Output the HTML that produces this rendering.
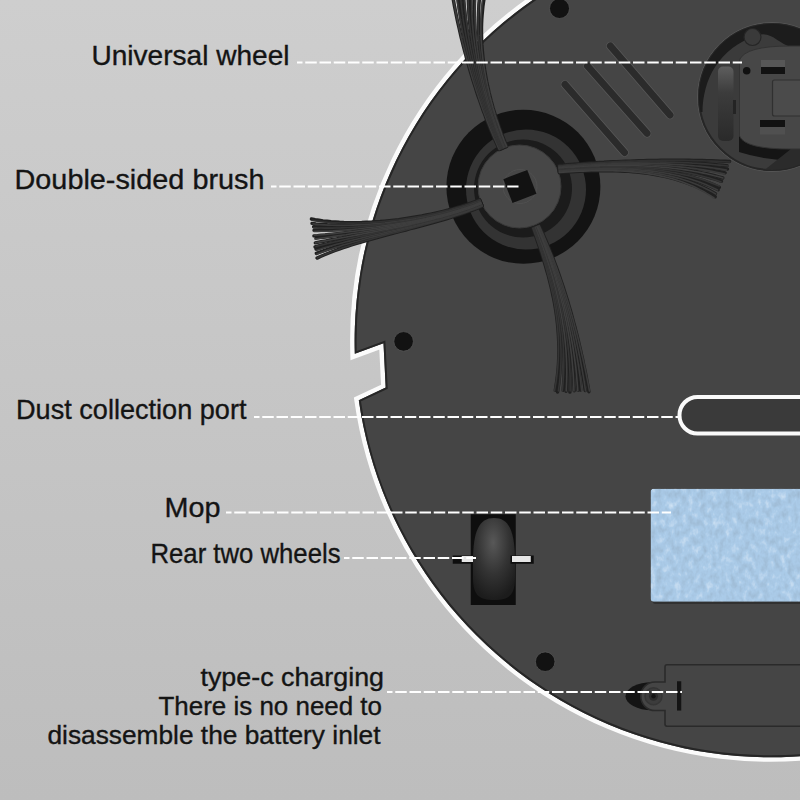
<!DOCTYPE html>
<html><head><meta charset="utf-8">
<style>
html,body{margin:0;padding:0;width:800px;height:800px;overflow:hidden;background:#c6c6c6;}
svg{display:block;position:absolute;left:0;top:0;}
text{font-family:"Liberation Sans",sans-serif;fill:#141414;stroke:#141414;stroke-width:0.35;}
</style></head>
<body>
<svg width="800" height="800" viewBox="0 0 800 800">
<defs>
  <linearGradient id="bg" x1="0" y1="0" x2="0" y2="1">
    <stop offset="0" stop-color="#cecece"/>
    <stop offset="1" stop-color="#bdbdbd"/>
  </linearGradient>
  <radialGradient id="wheelg" cx="0.48" cy="0.3" r="0.7">
    <stop offset="0" stop-color="#585858"/>
    <stop offset="0.55" stop-color="#333333"/>
    <stop offset="1" stop-color="#1c1c1c"/>
  </radialGradient>
  <linearGradient id="uwg" x1="0" y1="0" x2="0" y2="1">
    <stop offset="0" stop-color="#5e5e5e"/>
    <stop offset="0.35" stop-color="#3c3c3c"/>
    <stop offset="1" stop-color="#2a2a2a"/>
  </linearGradient>
  <clipPath id="diskclip">
    <path d="M358.8 400.2 A416 416 0 1 0 354.8 353.8 L383.5 343.3 L385.7 387.5 Z"/>
  </clipPath>
  <clipPath id="rimclip"><rect x="300" y="-10" width="520" height="400"/></clipPath>
  <clipPath id="uwclip">
    <circle cx="772" cy="97" r="73"/>
  </clipPath>
  <filter id="mopnoise" x="0" y="0" width="1" height="1">
    <feTurbulence type="fractalNoise" baseFrequency="0.16 0.11" numOctaves="3" seed="5" result="n"/>
    <feColorMatrix in="n" type="matrix" values="0 0 0 0 0.30  0 0 0 0 0.42  0 0 0 0 0.55  1.5 0 0 0 -0.68" result="dark"/>
    <feColorMatrix in="n" type="matrix" values="0 0 0 0 0.85  0 0 0 0 0.93  0 0 0 0 1.0  -1.3 0 0 0 0.55" result="light"/>
    <feMerge result="m"><feMergeNode in="SourceGraphic"/><feMergeNode in="dark"/><feMergeNode in="light"/></feMerge>
    <feComposite in="m" in2="SourceGraphic" operator="in"/>
  </filter>
</defs>
<rect x="0" y="0" width="800" height="800" fill="url(#bg)"/>

<!-- disk -->
<path d="M358.8 400.2 A416 416 0 1 0 354.8 353.8 L383.5 343.3 L385.7 387.5 Z" fill="#454545" stroke="#fbfbfb" stroke-width="9" stroke-linejoin="miter"/>
<path d="M358.8 400.2 A416 416 0 1 0 354.8 353.8 L383.5 343.3 L385.7 387.5 Z" fill="#454545"/>
<g clip-path="url(#diskclip)">
  <path d="M358.8 400.2 A416 416 0 1 0 354.8 353.8 L383.5 343.3 L385.7 387.5 Z" fill="none" stroke="#262626" stroke-width="4"/>

  <!-- holes -->
  <g fill="#121212" stroke="#555" stroke-width="0.8">
    <circle cx="559.5" cy="8.5" r="10"/>
    <circle cx="403.6" cy="341.4" r="9.8"/>
    <circle cx="545.2" cy="661.7" r="9.8"/>
  </g>

  <!-- vents -->
  <g stroke-linecap="round">
    <g stroke="#585858" stroke-width="8.5">
      <line x1="565" y1="84.5" x2="624.5" y2="152.5"/>
      <line x1="587.5" y1="66" x2="647" y2="133.3"/>
      <line x1="610.4" y1="46" x2="670" y2="115"/>
    </g>
    <g stroke="#2b2b2b" stroke-width="7">
      <line x1="565" y1="84.5" x2="624.5" y2="152.5"/>
      <line x1="587.5" y1="66" x2="647" y2="133.3"/>
      <line x1="610.4" y1="46" x2="670" y2="115"/>
    </g>
  </g>

  <!-- universal wheel housing -->
  <circle cx="772" cy="97" r="74.5" fill="#3b3b3b" stroke="#565656" stroke-width="1"/>
  <circle cx="772" cy="97" r="73" fill="none" stroke="#262626" stroke-width="2"/>
  <g clip-path="url(#uwclip)">
    <path d="M690 112 L702.5 112 C703 80 718 48 758 35 C772 31 778 44 792 47 L812 47 L812 10 L690 10 Z" fill="#1c1c1c"/>
    <circle cx="752.5" cy="37" r="8.5" fill="#3a3a3a" stroke="#262626" stroke-width="1.2"/>
    <path d="M739 136 L805 136 L805 160 Q770 162 739 152 Z" fill="#151515"/>
    <path d="M762 172 L830 118 L830 178 Z" fill="#2b2b2b"/>
  </g>
  <path d="M739.5 60 Q745 46 790 46 L810 46 L810 149 L790 149 Q745 149 739.5 136 Z" fill="#474747" stroke="#333" stroke-width="1"/>
  <rect x="718" y="66.5" width="15.5" height="74.5" rx="5" fill="url(#uwg)"/>
  <rect x="733" y="100" width="3" height="14" fill="#242424"/>
  <circle cx="746.7" cy="70.7" r="3.8" fill="#111"/>
  <rect x="761" y="60" width="24" height="7" fill="#575757"/>
  <rect x="761" y="67" width="24" height="7" fill="#121212"/>
  <rect x="772.5" y="80" width="30" height="36" rx="2" fill="#4b4b4b" stroke="#303030" stroke-width="1.2"/>
  <rect x="760" y="120" width="25" height="7" fill="#121212"/>
  <rect x="760" y="127" width="25" height="7.5" fill="#505050"/>

  <!-- brush housing -->
  <circle cx="523.4" cy="186.8" r="77" fill="#131313"/>
  <circle cx="526" cy="189.5" r="60" fill="#333333"/>
  <circle cx="523" cy="188.5" r="49" fill="#1b1b1b"/>
  <circle cx="519.5" cy="186.5" r="41.5" fill="#474747" stroke="#3a3a3a" stroke-width="1"/>
  <circle cx="520" cy="186.5" r="17" fill="none" stroke="#525252" stroke-width="0.8"/>
  <rect x="507.1" y="173.7" width="25.6" height="25.6" fill="#121212" transform="rotate(-21 519.9 186.5)"/>

  <!-- dust port -->
  <rect x="679.5" y="397" width="180" height="36.5" rx="18" fill="#3a3a3a" stroke="#fafafa" stroke-width="4"/>

  <!-- mop -->
  <rect x="652.5" y="491" width="160" height="113" rx="3" fill="#252525" opacity="0.6"/>
  <rect x="650.6" y="488.7" width="160" height="113" rx="3" fill="#aacbe8" filter="url(#mopnoise)"/>

  <!-- rear wheel -->
  <rect x="470.75" y="514.25" width="45" height="90.75" fill="#0e0e0e"/>
  <path d="M473 562 C473 531 479 518 494 518 C509 518 515 531 515 562 L515 578 C515 596 508 600 494 600 C480 600 473 596 473 578 Z" fill="url(#wheelg)"/>
  <rect x="452.75" y="555.5" width="19.5" height="8.25" fill="#0e0e0e"/>
  <rect x="461.75" y="556" width="11.25" height="6" fill="#e6e6e6"/>
  <rect x="510.5" y="555.5" width="23.25" height="8.25" fill="#0e0e0e"/>
  <rect x="512" y="556" width="18.75" height="6" fill="#e6e6e6"/>

  <!-- battery cover -->
  <ellipse cx="652" cy="696.2" rx="26.5" ry="14" fill="#141414"/>
  <path d="M665 667 Q665 664.75 667 664.75 L820 664.75 L820 726.25 L667 726.25 Q665 726.25 665 724 L665 710.5 L655 710.5 A14.25 14.25 0 0 1 655 682 L665 682 Z" fill="#454545" stroke="#2a2a2a" stroke-width="1.6"/>
  <circle cx="653.5" cy="696.25" r="8.5" fill="#3c3c3c" stroke="#353535" stroke-width="1.5"/>
  <circle cx="653.5" cy="696.25" r="4.5" fill="#2c2c2c"/>
  <circle cx="653.5" cy="696.25" r="2.2" fill="#151515"/>
  <rect x="677" y="681.25" width="4.25" height="29.3" fill="#141414"/>
</g>

<!-- brushes -->
<g fill="none" stroke-linecap="round">
<path d="M499.3 149.6 L498.0 146.8 L496.7 143.9 L495.4 141.0 L494.0 137.9 L492.7 134.8 L491.4 131.6 L490.0 128.3 L488.7 125.0 L487.3 121.5 L486.0 118.1 L484.7 114.5 L483.3 110.9 L482.0 107.2 L480.7 103.5 L479.4 99.7 L478.0 95.9 L476.7 92.0 L475.5 88.0 L474.2 84.0 L472.9 80.0 L471.7 75.9 L470.4 71.8 L469.2 67.6 L468.0 63.4 L466.8 59.2 L465.7 54.9 L464.5 50.6 L463.4 46.3 L462.3 41.9 L461.2 37.6 L460.2 33.2 L459.2 28.7 L458.2 24.3 L457.2 19.8 L456.3 15.4 L455.4 10.9 L454.5 6.4 L453.7 1.9 L452.9 -2.6" stroke="#202020" stroke-width="3.4"/>
<path d="M500.3 149.2 L499.0 146.4 L497.7 143.5 L496.4 140.6 L495.0 137.5 L493.7 134.4 L492.4 131.2 L491.1 127.9 L489.8 124.6 L488.5 121.1 L487.2 117.7 L485.9 114.1 L484.6 110.5 L483.3 106.8 L482.0 103.1 L480.8 99.3 L479.5 95.5 L478.3 91.6 L477.1 87.7 L475.9 83.7 L474.7 79.7 L473.5 75.6 L472.4 71.5 L471.3 67.3 L470.2 63.1 L469.1 58.9 L468.1 54.6 L467.1 50.3 L466.1 46.0 L465.1 41.6 L464.2 37.3 L463.4 32.9 L462.5 28.5 L461.7 24.0 L460.9 19.6 L460.2 15.1 L459.5 10.6 L458.9 6.1 L458.3 1.6 L457.8 -2.9" stroke="#202020" stroke-width="3.4"/>
<path d="M501.2 148.8 L499.9 146.0 L498.6 143.1 L497.3 140.1 L496.0 137.1 L494.7 134.0 L493.5 130.8 L492.2 127.5 L490.9 124.2 L489.6 120.8 L488.3 117.3 L487.0 113.7 L485.8 110.1 L484.5 106.5 L483.3 102.8 L482.0 99.0 L480.8 95.2 L479.6 91.3 L478.5 87.4 L477.3 83.4 L476.2 79.4 L475.0 75.3 L473.9 71.2 L472.9 67.1 L471.8 62.9 L470.8 58.7 L469.8 54.5 L468.9 50.2 L468.0 45.9 L467.1 41.6 L466.2 37.2 L465.4 32.8 L464.7 28.5 L463.9 24.0 L463.3 19.6 L462.6 15.2 L462.0 10.7 L461.5 6.3 L461.0 1.8 L460.5 -2.7" stroke="#202020" stroke-width="3.4"/>
<path d="M502.1 148.4 L500.8 145.6 L499.6 142.7 L498.3 139.7 L497.0 136.7 L495.8 133.6 L494.5 130.4 L493.2 127.1 L492.0 123.8 L490.7 120.4 L489.5 116.9 L488.2 113.4 L487.0 109.8 L485.7 106.1 L484.5 102.4 L483.3 98.6 L482.2 94.8 L481.0 90.9 L479.9 87.0 L478.8 83.1 L477.7 79.1 L476.6 75.0 L475.5 70.9 L474.5 66.8 L473.5 62.6 L472.6 58.4 L471.7 54.2 L470.8 49.9 L469.9 45.6 L469.1 41.3 L468.4 36.9 L467.6 32.6 L466.9 28.2 L466.3 23.8 L465.7 19.4 L465.2 14.9 L464.7 10.5 L464.2 6.0 L463.8 1.6 L463.5 -2.9" stroke="#202020" stroke-width="3.4"/>
<path d="M503.0 148.0 L501.8 145.2 L500.5 142.3 L499.3 139.3 L498.0 136.3 L496.8 133.2 L495.5 130.0 L494.3 126.7 L493.1 123.4 L491.8 120.0 L490.6 116.5 L489.4 113.0 L488.2 109.4 L487.0 105.8 L485.9 102.1 L484.7 98.3 L483.6 94.5 L482.5 90.7 L481.5 86.8 L480.4 82.8 L479.4 78.8 L478.4 74.8 L477.5 70.7 L476.6 66.6 L475.7 62.5 L474.9 58.3 L474.1 54.1 L473.3 49.9 L472.6 45.6 L471.9 41.4 L471.3 37.1 L470.8 32.7 L470.2 28.4 L469.8 24.1 L469.4 19.7 L469.0 15.3 L468.8 10.9 L468.6 6.5 L468.4 2.1 L468.3 -2.3" stroke="#202020" stroke-width="3.4"/>
<path d="M503.9 147.6 L502.7 144.8 L501.5 141.9 L500.3 138.9 L499.0 135.9 L497.8 132.8 L496.6 129.6 L495.4 126.3 L494.2 123.0 L492.9 119.6 L491.8 116.1 L490.6 112.6 L489.4 109.0 L488.3 105.4 L487.1 101.7 L486.0 97.9 L484.9 94.1 L483.9 90.2 L482.8 86.3 L481.8 82.4 L480.8 78.4 L479.9 74.3 L479.0 70.2 L478.1 66.1 L477.3 62.0 L476.5 57.8 L475.7 53.5 L475.0 49.3 L474.4 45.0 L473.8 40.7 L473.2 36.3 L472.7 32.0 L472.2 27.6 L471.8 23.2 L471.5 18.8 L471.2 14.3 L471.0 9.9 L470.9 5.4 L470.8 0.9 L470.8 -3.5" stroke="#202020" stroke-width="3.4"/>
<path d="M504.8 147.2 L503.6 144.4 L502.4 141.5 L501.2 138.5 L500.0 135.5 L498.8 132.4 L497.6 129.2 L496.4 125.9 L495.2 122.6 L494.1 119.2 L492.9 115.7 L491.8 112.2 L490.6 108.7 L489.5 105.0 L488.4 101.4 L487.4 97.6 L486.3 93.8 L485.3 90.0 L484.3 86.1 L483.4 82.2 L482.5 78.2 L481.6 74.2 L480.7 70.2 L479.9 66.1 L479.2 62.0 L478.5 57.8 L477.8 53.7 L477.2 49.5 L476.6 45.2 L476.1 41.0 L475.7 36.7 L475.3 32.4 L474.9 28.1 L474.7 23.8 L474.5 19.4 L474.3 15.1 L474.3 10.7 L474.3 6.4 L474.4 2.0 L474.5 -2.4" stroke="#202020" stroke-width="3.4"/>
<path d="M505.7 146.8 L504.6 144.0 L503.4 141.1 L502.2 138.1 L501.0 135.1 L499.8 131.9 L498.7 128.8 L497.5 125.5 L496.4 122.2 L495.2 118.8 L494.1 115.3 L493.0 111.8 L491.9 108.2 L490.8 104.6 L489.8 100.9 L488.8 97.2 L487.8 93.4 L486.9 89.5 L486.0 85.6 L485.1 81.7 L484.3 77.7 L483.5 73.6 L482.7 69.6 L482.0 65.5 L481.4 61.3 L480.8 57.1 L480.3 52.9 L479.8 48.6 L479.4 44.3 L479.1 40.0 L478.8 35.7 L478.6 31.3 L478.4 26.9 L478.4 22.5 L478.4 18.1 L478.5 13.6 L478.7 9.2 L478.9 4.7 L479.3 0.2 L479.7 -4.3" stroke="#202020" stroke-width="3.4"/>
<path d="M506.7 146.4 L505.5 143.6 L504.3 140.7 L503.2 137.7 L502.0 134.7 L500.9 131.5 L499.7 128.4 L498.6 125.1 L497.5 121.8 L496.4 118.4 L495.3 115.0 L494.2 111.5 L493.1 107.9 L492.1 104.3 L491.1 100.6 L490.2 96.9 L489.2 93.2 L488.4 89.4 L487.5 85.5 L486.7 81.6 L486.0 77.7 L485.3 73.7 L484.6 69.7 L484.0 65.6 L483.5 61.6 L483.0 57.4 L482.6 53.3 L482.2 49.1 L481.9 44.9 L481.7 40.7 L481.6 36.5 L481.5 32.3 L481.5 28.0 L481.6 23.7 L481.8 19.4 L482.1 15.1 L482.5 10.8 L482.9 6.5 L483.5 2.2 L484.2 -2.1" stroke="#202020" stroke-width="3.4"/>
<path d="M499.3 149.6 L498.0 146.8 L496.7 143.9 L495.4 141.0 L494.0 137.9 L492.7 134.8 L491.4 131.6 L490.0 128.3 L488.7 125.0 L487.3 121.5 L486.0 118.0 L484.7 114.5 L483.3 110.9 L482.0 107.2 L480.7 103.5 L479.4 99.7 L478.1 95.8 L476.8 92.0 L475.5 88.0 L474.2 84.0 L472.9 80.0 L471.7 75.9 L470.5 71.8 L469.2 67.6 L468.0 63.4 L466.9 59.2 L465.7 54.9 L464.6 50.6 L463.5 46.2 L462.4 41.9 L461.3 37.5 L460.3 33.1 L459.2 28.7 L458.3 24.2 L457.3 19.8 L456.4 15.3 L455.5 10.8 L454.6 6.3 L453.8 1.8 L453.0 -2.7" stroke="#3a3a3a" stroke-width="1.6"/>
<path d="M500.3 149.2 L499.0 146.4 L497.7 143.5 L496.4 140.6 L495.0 137.5 L493.7 134.4 L492.4 131.2 L491.1 127.9 L489.8 124.6 L488.5 121.1 L487.2 117.7 L485.8 114.1 L484.5 110.5 L483.3 106.8 L482.0 103.1 L480.7 99.3 L479.4 95.5 L478.2 91.6 L477.0 87.7 L475.7 83.7 L474.5 79.7 L473.4 75.6 L472.2 71.5 L471.1 67.3 L469.9 63.1 L468.8 58.9 L467.8 54.6 L466.7 50.3 L465.7 46.0 L464.7 41.7 L463.8 37.3 L462.8 32.9 L462.0 28.5 L461.1 24.1 L460.3 19.6 L459.5 15.2 L458.7 10.7 L458.0 6.2 L457.4 1.7 L456.8 -2.8" stroke="#343434" stroke-width="1.6"/>
<path d="M501.2 148.8 L499.9 146.0 L498.6 143.1 L497.3 140.1 L496.0 137.1 L494.7 134.0 L493.5 130.8 L492.2 127.5 L490.9 124.2 L489.6 120.8 L488.3 117.3 L487.0 113.7 L485.8 110.1 L484.5 106.5 L483.3 102.8 L482.0 99.0 L480.8 95.2 L479.6 91.3 L478.5 87.4 L477.3 83.4 L476.2 79.4 L475.0 75.3 L473.9 71.2 L472.9 67.0 L471.8 62.9 L470.8 58.7 L469.8 54.4 L468.9 50.1 L468.0 45.8 L467.1 41.5 L466.2 37.1 L465.4 32.7 L464.7 28.3 L463.9 23.9 L463.2 19.5 L462.6 15.0 L462.0 10.6 L461.5 6.1 L461.0 1.6 L460.5 -2.9" stroke="#343434" stroke-width="1.6"/>
<path d="M502.1 148.4 L500.8 145.6 L499.6 142.7 L498.3 139.7 L497.0 136.7 L495.8 133.6 L494.5 130.4 L493.2 127.1 L492.0 123.8 L490.7 120.4 L489.5 116.9 L488.2 113.4 L487.0 109.8 L485.8 106.1 L484.6 102.4 L483.4 98.6 L482.2 94.8 L481.1 90.9 L479.9 87.0 L478.8 83.1 L477.8 79.1 L476.7 75.0 L475.7 70.9 L474.7 66.8 L473.7 62.6 L472.8 58.4 L471.9 54.2 L471.0 49.9 L470.2 45.6 L469.4 41.3 L468.7 36.9 L468.0 32.6 L467.4 28.2 L466.8 23.8 L466.2 19.3 L465.7 14.9 L465.3 10.5 L464.9 6.0 L464.5 1.5 L464.3 -2.9" stroke="#343434" stroke-width="1.6"/>
<path d="M503.0 148.0 L501.8 145.2 L500.5 142.3 L499.3 139.3 L498.0 136.3 L496.8 133.2 L495.5 130.0 L494.3 126.7 L493.1 123.4 L491.8 120.0 L490.6 116.5 L489.4 113.0 L488.2 109.4 L487.0 105.7 L485.9 102.0 L484.7 98.3 L483.6 94.5 L482.5 90.6 L481.4 86.7 L480.4 82.7 L479.4 78.7 L478.4 74.7 L477.4 70.6 L476.5 66.5 L475.6 62.3 L474.8 58.1 L474.0 53.9 L473.2 49.7 L472.5 45.4 L471.8 41.1 L471.2 36.7 L470.6 32.4 L470.1 28.0 L469.6 23.6 L469.2 19.2 L468.8 14.8 L468.5 10.4 L468.3 5.9 L468.1 1.5 L468.0 -3.0" stroke="#343434" stroke-width="1.6"/>
<path d="M503.9 147.6 L502.7 144.8 L501.5 141.9 L500.3 138.9 L499.0 135.9 L497.8 132.8 L496.6 129.6 L495.4 126.3 L494.2 123.0 L493.0 119.6 L491.8 116.1 L490.6 112.6 L489.4 109.0 L488.3 105.4 L487.2 101.7 L486.1 97.9 L485.0 94.1 L483.9 90.3 L482.9 86.4 L481.9 82.4 L481.0 78.4 L480.1 74.4 L479.2 70.3 L478.3 66.2 L477.5 62.1 L476.7 57.9 L476.0 53.7 L475.4 49.4 L474.7 45.2 L474.2 40.9 L473.6 36.6 L473.2 32.2 L472.8 27.9 L472.4 23.5 L472.2 19.1 L471.9 14.7 L471.8 10.3 L471.7 5.8 L471.7 1.4 L471.7 -3.1" stroke="#3a3a3a" stroke-width="1.6"/>
<path d="M504.8 147.2 L503.6 144.4 L502.4 141.5 L501.2 138.5 L500.0 135.5 L498.8 132.4 L497.6 129.2 L496.4 125.9 L495.3 122.6 L494.1 119.2 L492.9 115.7 L491.8 112.2 L490.7 108.6 L489.6 105.0 L488.5 101.3 L487.4 97.6 L486.4 93.8 L485.4 89.9 L484.4 86.0 L483.5 82.1 L482.6 78.1 L481.7 74.1 L480.9 70.0 L480.1 66.0 L479.4 61.8 L478.7 57.6 L478.1 53.4 L477.5 49.2 L477.0 45.0 L476.5 40.7 L476.1 36.4 L475.8 32.0 L475.5 27.7 L475.3 23.3 L475.1 18.9 L475.0 14.6 L475.0 10.1 L475.1 5.7 L475.3 1.3 L475.5 -3.1" stroke="#3a3a3a" stroke-width="1.6"/>
<path d="M505.7 146.8 L504.6 144.0 L503.4 141.1 L502.2 138.1 L501.0 135.1 L499.8 131.9 L498.7 128.8 L497.5 125.5 L496.4 122.2 L495.2 118.8 L494.1 115.3 L493.0 111.8 L491.9 108.3 L490.8 104.6 L489.8 101.0 L488.8 97.2 L487.8 93.4 L486.8 89.6 L485.9 85.7 L485.0 81.8 L484.2 77.8 L483.4 73.8 L482.7 69.8 L481.9 65.7 L481.3 61.6 L480.7 57.4 L480.2 53.2 L479.7 49.0 L479.2 44.7 L478.9 40.5 L478.6 36.2 L478.3 31.9 L478.2 27.5 L478.1 23.2 L478.1 18.8 L478.2 14.4 L478.3 10.0 L478.5 5.6 L478.8 1.2 L479.2 -3.2" stroke="#343434" stroke-width="1.6"/>
<path d="M506.7 146.4 L505.5 143.6 L504.3 140.7 L503.2 137.7 L502.0 134.7 L500.9 131.5 L499.7 128.4 L498.6 125.1 L497.5 121.8 L496.3 118.4 L495.2 115.0 L494.2 111.5 L493.1 107.9 L492.1 104.3 L491.1 100.6 L490.1 96.9 L489.2 93.1 L488.3 89.3 L487.4 85.4 L486.6 81.5 L485.8 77.5 L485.1 73.5 L484.4 69.5 L483.8 65.4 L483.2 61.3 L482.7 57.1 L482.2 53.0 L481.8 48.8 L481.5 44.5 L481.2 40.3 L481.0 36.0 L480.9 31.7 L480.9 27.4 L480.9 23.0 L481.1 18.7 L481.3 14.3 L481.6 9.9 L481.9 5.5 L482.4 1.1 L483.0 -3.3" stroke="#3e3e3e" stroke-width="1.6"/>
<path d="M482.3 206.2 L478.7 207.7 L475.0 209.2 L471.1 210.6 L467.2 212.0 L463.2 213.4 L459.1 214.8 L454.9 216.1 L450.7 217.5 L446.4 218.8 L442.0 220.0 L437.5 221.3 L433.1 222.6 L428.6 223.8 L424.0 225.1 L419.4 226.3 L414.8 227.5 L410.2 228.7 L405.6 230.0 L401.0 231.2 L396.3 232.4 L391.7 233.6 L387.1 234.8 L382.5 236.1 L378.0 237.3 L373.5 238.6 L369.0 239.8 L364.5 241.1 L360.2 242.4 L355.8 243.7 L351.6 245.0 L347.4 246.4 L343.3 247.7 L339.2 249.1 L335.3 250.5 L331.4 252.0 L327.7 253.5 L324.0 255.0 L320.5 256.5 L317.1 258.1" stroke="#202020" stroke-width="3.4"/>
<path d="M482.1 205.6 L478.5 207.1 L474.7 208.5 L470.9 210.0 L467.0 211.4 L463.0 212.7 L458.9 214.1 L454.7 215.4 L450.4 216.7 L446.1 218.0 L441.8 219.2 L437.3 220.5 L432.9 221.7 L428.3 222.9 L423.8 224.1 L419.2 225.3 L414.6 226.5 L410.0 227.6 L405.4 228.8 L400.7 229.9 L396.1 231.1 L391.5 232.2 L386.8 233.3 L382.2 234.5 L377.7 235.6 L373.1 236.7 L368.6 237.9 L364.2 239.0 L359.8 240.1 L355.4 241.3 L351.1 242.5 L346.9 243.6 L342.7 244.8 L338.7 246.0 L334.7 247.2 L330.8 248.4 L327.0 249.6 L323.3 250.9 L319.7 252.1 L316.3 253.4" stroke="#202020" stroke-width="3.4"/>
<path d="M481.8 204.9 L478.2 206.4 L474.5 207.9 L470.6 209.3 L466.7 210.7 L462.7 212.0 L458.6 213.4 L454.5 214.7 L450.2 215.9 L445.9 217.2 L441.5 218.4 L437.1 219.7 L432.6 220.8 L428.1 222.0 L423.6 223.2 L419.0 224.3 L414.4 225.4 L409.8 226.5 L405.2 227.6 L400.5 228.7 L395.9 229.8 L391.3 230.8 L386.7 231.9 L382.1 232.9 L377.5 234.0 L372.9 235.0 L368.4 236.0 L364.0 237.0 L359.6 238.0 L355.2 239.0 L350.9 240.0 L346.7 241.0 L342.5 242.0 L338.5 243.0 L334.5 244.0 L330.6 245.0 L326.8 246.0 L323.1 247.1 L319.5 248.1 L316.0 249.1" stroke="#202020" stroke-width="3.4"/>
<path d="M481.5 204.3 L477.9 205.8 L474.2 207.2 L470.4 208.6 L466.5 210.0 L462.5 211.3 L458.4 212.6 L454.2 213.9 L450.0 215.2 L445.7 216.5 L441.3 217.7 L436.9 218.9 L432.4 220.1 L427.9 221.2 L423.4 222.3 L418.8 223.5 L414.2 224.6 L409.5 225.6 L404.9 226.7 L400.3 227.8 L395.6 228.8 L391.0 229.8 L386.3 230.8 L381.7 231.8 L377.1 232.8 L372.6 233.8 L368.0 234.7 L363.5 235.7 L359.1 236.7 L354.7 237.6 L350.4 238.5 L346.1 239.5 L341.9 240.4 L337.8 241.3 L333.8 242.3 L329.8 243.2 L326.0 244.1 L322.2 245.0 L318.5 246.0 L315.0 246.9" stroke="#202020" stroke-width="3.4"/>
<path d="M481.3 203.6 L477.7 205.1 L474.0 206.5 L470.1 207.9 L466.2 209.3 L462.2 210.6 L458.2 211.9 L454.0 213.2 L449.8 214.5 L445.5 215.7 L441.1 216.9 L436.7 218.1 L432.2 219.2 L427.7 220.3 L423.2 221.4 L418.6 222.5 L414.0 223.6 L409.4 224.6 L404.8 225.6 L400.1 226.6 L395.5 227.5 L390.9 228.5 L386.2 229.4 L381.6 230.3 L377.1 231.2 L372.5 232.1 L368.0 233.0 L363.5 233.8 L359.1 234.6 L354.7 235.5 L350.4 236.2 L346.2 237.0 L342.0 237.8 L337.9 238.6 L333.9 239.3 L330.0 240.0 L326.1 240.8 L322.4 241.5 L318.8 242.2 L315.3 242.9" stroke="#202020" stroke-width="3.4"/>
<path d="M481.0 203.0 L477.4 204.4 L473.7 205.9 L469.9 207.2 L466.0 208.6 L462.0 209.9 L457.9 211.2 L453.8 212.5 L449.5 213.7 L445.3 214.9 L440.9 216.1 L436.5 217.2 L432.1 218.3 L427.6 219.4 L423.0 220.5 L418.5 221.5 L413.9 222.5 L409.3 223.5 L404.7 224.4 L400.1 225.3 L395.4 226.2 L390.8 227.0 L386.2 227.9 L381.7 228.7 L377.1 229.5 L372.6 230.2 L368.1 230.9 L363.7 231.6 L359.3 232.3 L355.0 232.9 L350.7 233.6 L346.5 234.1 L342.4 234.7 L338.3 235.3 L334.3 235.8 L330.5 236.3 L326.7 236.7 L323.0 237.2 L319.5 237.6 L316.0 238.0" stroke="#202020" stroke-width="3.4"/>
<path d="M480.7 202.4 L477.1 203.8 L473.4 205.2 L469.6 206.6 L465.7 207.9 L461.8 209.2 L457.7 210.5 L453.5 211.7 L449.3 213.0 L445.0 214.2 L440.7 215.3 L436.3 216.4 L431.8 217.5 L427.3 218.6 L422.7 219.6 L418.2 220.6 L413.6 221.6 L408.9 222.5 L404.3 223.5 L399.7 224.3 L395.0 225.2 L390.4 226.0 L385.7 226.8 L381.1 227.6 L376.5 228.3 L371.9 229.0 L367.4 229.7 L362.9 230.3 L358.4 231.0 L354.0 231.5 L349.6 232.1 L345.4 232.6 L341.1 233.1 L337.0 233.6 L332.9 234.1 L328.9 234.5 L325.0 234.9 L321.2 235.2 L317.5 235.6 L313.9 235.9" stroke="#202020" stroke-width="3.4"/>
<path d="M480.5 201.7 L476.9 203.1 L473.2 204.5 L469.4 205.9 L465.5 207.2 L461.5 208.5 L457.5 209.8 L453.3 211.0 L449.1 212.2 L444.8 213.4 L440.5 214.5 L436.0 215.6 L431.6 216.6 L427.1 217.7 L422.6 218.6 L418.0 219.6 L413.4 220.5 L408.8 221.4 L404.2 222.2 L399.5 223.0 L394.9 223.8 L390.2 224.5 L385.6 225.2 L381.0 225.8 L376.4 226.4 L371.8 227.0 L367.3 227.5 L362.8 227.9 L358.4 228.4 L354.0 228.8 L349.6 229.1 L345.3 229.4 L341.1 229.7 L337.0 229.9 L332.9 230.1 L329.0 230.2 L325.1 230.3 L321.3 230.4 L317.6 230.4 L314.0 230.3" stroke="#202020" stroke-width="3.4"/>
<path d="M480.2 201.1 L476.6 202.5 L472.9 203.9 L469.1 205.2 L465.3 206.5 L461.3 207.8 L457.2 209.1 L453.1 210.3 L448.9 211.5 L444.6 212.6 L440.2 213.7 L435.8 214.8 L431.4 215.8 L426.9 216.8 L422.4 217.7 L417.8 218.6 L413.2 219.5 L408.6 220.3 L404.0 221.1 L399.3 221.9 L394.7 222.6 L390.0 223.2 L385.4 223.8 L380.8 224.4 L376.2 224.9 L371.6 225.4 L367.1 225.8 L362.6 226.2 L358.1 226.5 L353.7 226.8 L349.4 227.0 L345.1 227.2 L340.9 227.3 L336.7 227.4 L332.6 227.4 L328.6 227.4 L324.7 227.3 L320.9 227.2 L317.2 227.0 L313.6 226.8" stroke="#202020" stroke-width="3.4"/>
<path d="M479.9 200.4 L476.4 201.8 L472.7 203.2 L468.9 204.5 L465.0 205.8 L461.0 207.1 L457.0 208.3 L452.8 209.5 L448.6 210.7 L444.3 211.8 L440.0 212.9 L435.6 214.0 L431.1 215.0 L426.6 215.9 L422.1 216.8 L417.5 217.7 L412.9 218.6 L408.3 219.3 L403.6 220.1 L399.0 220.8 L394.3 221.4 L389.6 222.0 L385.0 222.6 L380.3 223.1 L375.7 223.5 L371.1 223.9 L366.5 224.2 L362.0 224.5 L357.4 224.8 L353.0 224.9 L348.6 225.1 L344.2 225.1 L339.9 225.1 L335.7 225.1 L331.5 224.9 L327.4 224.8 L323.5 224.5 L319.6 224.2 L315.8 223.9 L312.0 223.4" stroke="#202020" stroke-width="3.4"/>
<path d="M479.7 199.8 L476.1 201.2 L472.4 202.5 L468.6 203.9 L464.8 205.1 L460.8 206.4 L456.7 207.6 L452.6 208.8 L448.4 210.0 L444.1 211.1 L439.8 212.1 L435.4 213.1 L430.9 214.1 L426.4 215.0 L421.9 215.9 L417.3 216.7 L412.7 217.5 L408.1 218.2 L403.4 218.9 L398.8 219.6 L394.1 220.1 L389.4 220.6 L384.7 221.1 L380.1 221.5 L375.4 221.8 L370.8 222.1 L366.2 222.3 L361.7 222.5 L357.1 222.6 L352.6 222.6 L348.2 222.6 L343.8 222.5 L339.5 222.3 L335.3 222.0 L331.1 221.7 L327.0 221.3 L323.0 220.9 L319.0 220.3 L315.2 219.7 L311.4 219.0" stroke="#202020" stroke-width="3.4"/>
<path d="M482.3 206.2 L478.7 207.7 L475.0 209.2 L471.1 210.6 L467.2 212.0 L463.2 213.4 L459.1 214.8 L454.9 216.1 L450.7 217.5 L446.4 218.8 L442.0 220.0 L437.6 221.3 L433.1 222.6 L428.6 223.8 L424.0 225.1 L419.5 226.3 L414.9 227.5 L410.3 228.7 L405.6 229.9 L401.0 231.2 L396.4 232.4 L391.8 233.6 L387.2 234.8 L382.6 236.0 L378.1 237.3 L373.6 238.5 L369.1 239.8 L364.7 241.0 L360.3 242.3 L356.0 243.6 L351.8 244.9 L347.6 246.3 L343.5 247.6 L339.5 249.0 L335.6 250.4 L331.7 251.8 L328.0 253.3 L324.4 254.8 L320.9 256.3 L317.5 257.8" stroke="#343434" stroke-width="1.6"/>
<path d="M482.1 205.6 L478.5 207.1 L474.7 208.5 L470.9 210.0 L467.0 211.4 L463.0 212.7 L458.9 214.1 L454.7 215.4 L450.4 216.7 L446.1 218.0 L441.8 219.2 L437.3 220.5 L432.9 221.7 L428.4 222.9 L423.8 224.1 L419.2 225.3 L414.7 226.5 L410.0 227.7 L405.4 228.8 L400.8 230.0 L396.2 231.2 L391.6 232.3 L387.0 233.5 L382.4 234.6 L377.8 235.8 L373.3 236.9 L368.8 238.1 L364.4 239.2 L360.0 240.4 L355.7 241.6 L351.5 242.7 L347.3 243.9 L343.1 245.1 L339.1 246.4 L335.2 247.6 L331.3 248.9 L327.6 250.1 L323.9 251.4 L320.4 252.7 L317.0 254.1" stroke="#3a3a3a" stroke-width="1.6"/>
<path d="M481.8 204.9 L478.2 206.4 L474.5 207.9 L470.6 209.3 L466.7 210.7 L462.7 212.0 L458.6 213.4 L454.5 214.7 L450.2 216.0 L445.9 217.2 L441.5 218.5 L437.1 219.7 L432.7 220.9 L428.2 222.1 L423.6 223.2 L419.0 224.4 L414.4 225.5 L409.8 226.6 L405.2 227.8 L400.6 228.9 L396.0 230.0 L391.3 231.0 L386.7 232.1 L382.2 233.2 L377.6 234.2 L373.1 235.3 L368.6 236.3 L364.1 237.4 L359.8 238.5 L355.4 239.5 L351.1 240.6 L346.9 241.6 L342.8 242.7 L338.8 243.7 L334.8 244.8 L330.9 245.9 L327.2 247.0 L323.5 248.1 L319.9 249.2 L316.5 250.3" stroke="#3a3a3a" stroke-width="1.6"/>
<path d="M481.5 204.3 L477.9 205.8 L474.2 207.2 L470.4 208.6 L466.5 210.0 L462.5 211.3 L458.4 212.6 L454.2 213.9 L450.0 215.2 L445.7 216.4 L441.3 217.7 L436.9 218.9 L432.4 220.0 L427.9 221.2 L423.4 222.3 L418.8 223.4 L414.2 224.5 L409.6 225.6 L405.0 226.7 L400.4 227.7 L395.7 228.7 L391.1 229.8 L386.5 230.8 L381.9 231.7 L377.4 232.7 L372.8 233.7 L368.3 234.6 L363.9 235.6 L359.5 236.5 L355.1 237.5 L350.8 238.4 L346.6 239.3 L342.5 240.2 L338.4 241.1 L334.4 242.0 L330.5 242.9 L326.7 243.8 L323.0 244.7 L319.5 245.6 L316.0 246.5" stroke="#343434" stroke-width="1.6"/>
<path d="M481.3 203.6 L477.7 205.1 L474.0 206.5 L470.1 207.9 L466.2 209.3 L462.2 210.6 L458.2 211.9 L454.0 213.2 L449.8 214.5 L445.5 215.7 L441.1 216.9 L436.7 218.1 L432.2 219.2 L427.7 220.3 L423.2 221.4 L418.6 222.5 L414.0 223.5 L409.4 224.6 L404.8 225.6 L400.2 226.6 L395.5 227.5 L390.9 228.5 L386.3 229.4 L381.7 230.3 L377.1 231.2 L372.6 232.1 L368.1 232.9 L363.6 233.8 L359.2 234.6 L354.8 235.4 L350.5 236.2 L346.3 237.0 L342.1 237.7 L338.0 238.5 L334.0 239.2 L330.1 240.0 L326.3 240.7 L322.6 241.4 L319.0 242.1 L315.5 242.8" stroke="#3e3e3e" stroke-width="1.6"/>
<path d="M481.0 203.0 L477.4 204.4 L473.7 205.9 L469.9 207.2 L466.0 208.6 L462.0 209.9 L457.9 211.2 L453.8 212.5 L449.5 213.7 L445.2 214.9 L440.9 216.1 L436.5 217.2 L432.0 218.4 L427.5 219.4 L423.0 220.5 L418.4 221.5 L413.8 222.6 L409.2 223.5 L404.6 224.5 L399.9 225.4 L395.3 226.3 L390.7 227.2 L386.1 228.1 L381.5 228.9 L376.9 229.7 L372.3 230.5 L367.8 231.2 L363.3 232.0 L358.9 232.7 L354.5 233.3 L350.2 234.0 L346.0 234.7 L341.8 235.3 L337.7 235.9 L333.7 236.4 L329.7 237.0 L325.9 237.5 L322.2 238.0 L318.5 238.5 L315.0 239.0" stroke="#3e3e3e" stroke-width="1.6"/>
<path d="M480.7 202.4 L477.1 203.8 L473.4 205.2 L469.6 206.6 L465.7 207.9 L461.8 209.2 L457.7 210.5 L453.5 211.7 L449.3 213.0 L445.0 214.1 L440.7 215.3 L436.3 216.4 L431.8 217.5 L427.3 218.6 L422.8 219.6 L418.2 220.6 L413.6 221.6 L409.0 222.5 L404.4 223.4 L399.7 224.3 L395.1 225.1 L390.5 225.9 L385.8 226.7 L381.2 227.5 L376.6 228.2 L372.1 228.9 L367.6 229.5 L363.1 230.1 L358.6 230.7 L354.2 231.3 L349.9 231.8 L345.6 232.3 L341.4 232.8 L337.3 233.2 L333.3 233.6 L329.3 234.0 L325.5 234.4 L321.7 234.7 L318.0 235.0 L314.5 235.2" stroke="#3e3e3e" stroke-width="1.6"/>
<path d="M480.5 201.7 L476.9 203.1 L473.2 204.5 L469.4 205.9 L465.5 207.2 L461.5 208.5 L457.5 209.8 L453.3 211.0 L449.1 212.2 L444.8 213.4 L440.5 214.5 L436.0 215.6 L431.6 216.7 L427.1 217.7 L422.6 218.7 L418.0 219.6 L413.4 220.6 L408.8 221.5 L404.2 222.3 L399.5 223.1 L394.9 223.9 L390.2 224.6 L385.6 225.4 L381.0 226.0 L376.4 226.7 L371.8 227.2 L367.3 227.8 L362.8 228.3 L358.4 228.8 L354.0 229.2 L349.6 229.6 L345.3 230.0 L341.1 230.3 L337.0 230.6 L332.9 230.9 L328.9 231.1 L325.0 231.2 L321.3 231.3 L317.6 231.4 L314.0 231.5" stroke="#3e3e3e" stroke-width="1.6"/>
<path d="M480.2 201.1 L476.6 202.5 L472.9 203.9 L469.1 205.2 L465.3 206.5 L461.3 207.8 L457.2 209.1 L453.1 210.3 L448.9 211.5 L444.6 212.6 L440.2 213.7 L435.8 214.8 L431.4 215.8 L426.9 216.8 L422.3 217.8 L417.8 218.7 L413.2 219.6 L408.6 220.4 L403.9 221.2 L399.3 222.0 L394.7 222.7 L390.0 223.4 L385.4 224.0 L380.8 224.6 L376.2 225.1 L371.6 225.6 L367.0 226.1 L362.5 226.5 L358.1 226.9 L353.7 227.2 L349.3 227.5 L345.0 227.7 L340.8 227.9 L336.6 228.0 L332.5 228.1 L328.5 228.1 L324.6 228.1 L320.8 228.0 L317.1 227.9 L313.5 227.7" stroke="#343434" stroke-width="1.6"/>
<path d="M479.9 200.4 L476.4 201.8 L472.7 203.2 L468.9 204.5 L465.0 205.8 L461.0 207.1 L457.0 208.3 L452.8 209.5 L448.6 210.7 L444.4 211.8 L440.0 212.9 L435.6 214.0 L431.2 215.0 L426.7 215.9 L422.1 216.9 L417.6 217.8 L413.0 218.6 L408.4 219.4 L403.7 220.1 L399.1 220.8 L394.4 221.5 L389.8 222.1 L385.2 222.7 L380.5 223.2 L375.9 223.6 L371.3 224.0 L366.8 224.4 L362.3 224.7 L357.8 224.9 L353.4 225.1 L349.0 225.3 L344.7 225.4 L340.4 225.4 L336.3 225.4 L332.1 225.3 L328.1 225.1 L324.2 224.9 L320.4 224.7 L316.6 224.3 L313.0 223.9" stroke="#3a3a3a" stroke-width="1.6"/>
<path d="M479.7 199.8 L476.1 201.2 L472.4 202.5 L468.6 203.9 L464.8 205.2 L460.8 206.4 L456.8 207.6 L452.6 208.8 L448.4 210.0 L444.1 211.1 L439.8 212.1 L435.4 213.2 L431.0 214.1 L426.5 215.1 L421.9 216.0 L417.4 216.8 L412.8 217.6 L408.2 218.3 L403.5 219.0 L398.9 219.7 L394.2 220.3 L389.6 220.8 L384.9 221.3 L380.3 221.7 L375.7 222.1 L371.1 222.4 L366.5 222.7 L362.0 222.9 L357.5 223.0 L353.1 223.1 L348.7 223.1 L344.4 223.0 L340.1 222.9 L335.9 222.7 L331.8 222.5 L327.7 222.2 L323.8 221.8 L319.9 221.3 L316.1 220.8 L312.5 220.2" stroke="#303030" stroke-width="1.6"/>
<path d="M558.7 165.5 L562.7 165.2 L566.7 164.8 L570.7 164.5 L574.7 164.2 L578.8 163.9 L582.9 163.6 L587.1 163.3 L591.3 163.0 L595.5 162.8 L599.7 162.5 L604.0 162.3 L608.3 162.0 L612.6 161.8 L616.9 161.6 L621.3 161.4 L625.7 161.2 L630.1 161.1 L634.5 160.9 L639.0 160.8 L643.4 160.7 L647.9 160.5 L652.4 160.4 L656.9 160.4 L661.4 160.3 L665.9 160.3 L670.4 160.2 L675.0 160.2 L679.5 160.2 L684.1 160.3 L688.6 160.3 L693.2 160.4 L697.7 160.4 L702.3 160.5 L706.8 160.7 L711.4 160.8 L716.0 160.9 L720.5 161.1 L725.1 161.3 L729.6 161.5" stroke="#202020" stroke-width="3.4"/>
<path d="M558.8 166.3 L562.7 166.0 L566.7 165.6 L570.7 165.3 L574.8 165.0 L578.9 164.7 L583.0 164.4 L587.1 164.2 L591.3 163.9 L595.5 163.7 L599.7 163.4 L604.0 163.2 L608.2 163.0 L612.5 162.8 L616.8 162.6 L621.2 162.5 L625.5 162.4 L629.9 162.2 L634.3 162.1 L638.6 162.1 L643.0 162.0 L647.5 162.0 L651.9 162.0 L656.3 162.0 L660.7 162.0 L665.2 162.1 L669.6 162.2 L674.1 162.3 L678.5 162.4 L683.0 162.6 L687.4 162.8 L691.8 163.0 L696.3 163.2 L700.7 163.5 L705.1 163.8 L709.5 164.1 L713.9 164.5 L718.3 164.9 L722.7 165.3 L727.1 165.8" stroke="#202020" stroke-width="3.4"/>
<path d="M558.8 167.1 L562.8 166.7 L566.8 166.4 L570.8 166.1 L574.8 165.8 L578.9 165.5 L583.0 165.3 L587.2 165.0 L591.3 164.8 L595.5 164.5 L599.7 164.3 L604.0 164.1 L608.3 163.9 L612.5 163.8 L616.9 163.6 L621.2 163.5 L625.5 163.4 L629.9 163.3 L634.3 163.3 L638.7 163.3 L643.1 163.3 L647.5 163.3 L651.9 163.3 L656.4 163.4 L660.8 163.5 L665.2 163.6 L669.7 163.8 L674.2 164.0 L678.6 164.2 L683.1 164.5 L687.5 164.8 L692.0 165.1 L696.5 165.5 L700.9 165.9 L705.4 166.3 L709.8 166.8 L714.2 167.3 L718.6 167.9 L723.1 168.5 L727.5 169.1" stroke="#202020" stroke-width="3.4"/>
<path d="M558.9 167.8 L562.9 167.5 L566.8 167.2 L570.8 166.9 L574.9 166.6 L579.0 166.4 L583.1 166.1 L587.2 165.9 L591.3 165.6 L595.5 165.4 L599.7 165.2 L604.0 165.0 L608.2 164.9 L612.5 164.8 L616.8 164.7 L621.1 164.6 L625.4 164.5 L629.7 164.5 L634.0 164.5 L638.4 164.5 L642.7 164.6 L647.1 164.6 L651.5 164.8 L655.8 164.9 L660.2 165.1 L664.6 165.3 L669.0 165.6 L673.3 165.9 L677.7 166.2 L682.1 166.6 L686.4 167.0 L690.8 167.5 L695.1 168.0 L699.5 168.5 L703.8 169.1 L708.1 169.8 L712.4 170.4 L716.7 171.2 L720.9 172.0 L725.2 172.8" stroke="#202020" stroke-width="3.4"/>
<path d="M559.0 168.6 L562.9 168.3 L566.9 168.0 L570.9 167.7 L574.9 167.4 L579.0 167.2 L583.1 166.9 L587.2 166.7 L591.4 166.5 L595.5 166.3 L599.7 166.1 L603.9 166.0 L608.2 165.9 L612.4 165.8 L616.7 165.7 L620.9 165.7 L625.2 165.7 L629.5 165.7 L633.8 165.8 L638.1 165.9 L642.4 166.0 L646.7 166.2 L651.0 166.4 L655.3 166.7 L659.6 167.0 L663.9 167.4 L668.2 167.8 L672.5 168.2 L676.8 168.7 L681.1 169.3 L685.3 169.9 L689.6 170.5 L693.8 171.2 L698.0 172.0 L702.2 172.9 L706.4 173.7 L710.5 174.7 L714.6 175.7 L718.7 176.8 L722.8 178.0" stroke="#202020" stroke-width="3.4"/>
<path d="M559.0 169.4 L563.0 169.1 L566.9 168.8 L570.9 168.5 L575.0 168.3 L579.0 168.0 L583.1 167.8 L587.3 167.6 L591.4 167.4 L595.5 167.2 L599.7 167.0 L603.9 166.9 L608.1 166.8 L612.4 166.8 L616.6 166.7 L620.8 166.7 L625.1 166.8 L629.4 166.8 L633.6 166.9 L637.9 167.1 L642.2 167.3 L646.5 167.5 L650.7 167.8 L655.0 168.1 L659.3 168.5 L663.6 168.9 L667.8 169.4 L672.0 169.9 L676.3 170.5 L680.5 171.2 L684.7 171.9 L688.9 172.7 L693.1 173.5 L697.2 174.4 L701.3 175.4 L705.4 176.4 L709.5 177.5 L713.5 178.7 L717.6 179.9 L721.5 181.3" stroke="#202020" stroke-width="3.4"/>
<path d="M559.1 170.2 L563.0 169.9 L567.0 169.6 L571.0 169.3 L575.0 169.1 L579.1 168.8 L583.2 168.6 L587.3 168.4 L591.4 168.3 L595.6 168.1 L599.7 168.0 L603.9 167.9 L608.1 167.8 L612.3 167.8 L616.5 167.8 L620.7 167.9 L624.9 168.0 L629.2 168.2 L633.4 168.3 L637.6 168.6 L641.9 168.9 L646.1 169.2 L650.3 169.6 L654.5 170.1 L658.7 170.6 L662.9 171.2 L667.1 171.8 L671.3 172.5 L675.4 173.3 L679.5 174.2 L683.7 175.1 L687.7 176.1 L691.8 177.2 L695.8 178.4 L699.8 179.6 L703.8 180.9 L707.7 182.4 L711.7 183.9 L715.5 185.5 L719.4 187.2" stroke="#202020" stroke-width="3.4"/>
<path d="M559.2 170.9 L563.1 170.7 L567.1 170.4 L571.1 170.1 L575.1 169.9 L579.1 169.7 L583.2 169.4 L587.3 169.3 L591.4 169.1 L595.6 169.0 L599.7 168.9 L603.9 168.8 L608.1 168.8 L612.3 168.8 L616.5 168.8 L620.7 168.9 L624.9 169.0 L629.1 169.2 L633.3 169.4 L637.5 169.7 L641.7 170.0 L645.9 170.4 L650.1 170.9 L654.3 171.4 L658.4 171.9 L662.6 172.6 L666.7 173.3 L670.8 174.1 L674.9 174.9 L679.0 175.8 L683.1 176.8 L687.1 177.9 L691.1 179.1 L695.1 180.3 L699.0 181.7 L702.9 183.1 L706.8 184.6 L710.7 186.3 L714.4 188.0 L718.2 189.8" stroke="#202020" stroke-width="3.4"/>
<path d="M559.2 171.7 L563.1 171.4 L567.1 171.2 L571.1 170.9 L575.1 170.7 L579.2 170.5 L583.2 170.3 L587.3 170.1 L591.4 170.0 L595.6 169.9 L599.7 169.8 L603.8 169.7 L608.0 169.7 L612.2 169.8 L616.3 169.8 L620.5 170.0 L624.7 170.1 L628.8 170.4 L633.0 170.6 L637.2 171.0 L641.3 171.4 L645.4 171.8 L649.6 172.3 L653.7 172.9 L657.8 173.6 L661.8 174.3 L665.9 175.1 L669.9 176.0 L673.9 177.0 L677.9 178.0 L681.8 179.2 L685.7 180.4 L689.6 181.7 L693.4 183.1 L697.2 184.6 L701.0 186.2 L704.7 188.0 L708.3 189.8 L711.9 191.7 L715.5 193.7" stroke="#202020" stroke-width="3.4"/>
<path d="M559.3 172.5 L563.2 172.2 L567.2 172.0 L571.2 171.7 L575.2 171.5 L579.2 171.3 L583.3 171.1 L587.4 171.0 L591.5 170.8 L595.6 170.7 L599.7 170.7 L603.9 170.6 L608.0 170.7 L612.2 170.7 L616.3 170.8 L620.5 171.0 L624.6 171.2 L628.8 171.4 L632.9 171.7 L637.1 172.1 L641.2 172.6 L645.4 173.1 L649.5 173.6 L653.6 174.3 L657.6 175.0 L661.7 175.8 L665.7 176.7 L669.7 177.6 L673.7 178.7 L677.7 179.8 L681.6 181.1 L685.5 182.4 L689.4 183.8 L693.2 185.3 L697.0 187.0 L700.7 188.7 L704.4 190.6 L708.0 192.5 L711.6 194.6 L715.2 196.8" stroke="#202020" stroke-width="3.4"/>
<path d="M558.7 165.5 L562.7 165.2 L566.7 164.8 L570.7 164.5 L574.7 164.2 L578.8 163.9 L582.9 163.6 L587.1 163.3 L591.3 163.0 L595.5 162.8 L599.7 162.5 L604.0 162.3 L608.3 162.0 L612.6 161.8 L617.0 161.6 L621.3 161.4 L625.7 161.3 L630.1 161.1 L634.6 161.0 L639.0 160.8 L643.5 160.7 L647.9 160.6 L652.4 160.5 L656.9 160.5 L661.5 160.4 L666.0 160.4 L670.5 160.4 L675.1 160.4 L679.7 160.4 L684.2 160.4 L688.8 160.5 L693.4 160.6 L697.9 160.7 L702.5 160.8 L707.1 161.0 L711.7 161.1 L716.3 161.3 L720.9 161.5 L725.4 161.7 L730.0 162.0" stroke="#303030" stroke-width="1.6"/>
<path d="M558.8 166.3 L562.7 166.0 L566.7 165.6 L570.7 165.3 L574.8 165.0 L578.9 164.7 L583.0 164.4 L587.1 164.2 L591.3 163.9 L595.5 163.7 L599.7 163.4 L604.0 163.2 L608.3 163.0 L612.6 162.8 L616.9 162.7 L621.2 162.5 L625.6 162.4 L630.0 162.3 L634.4 162.2 L638.8 162.1 L643.2 162.0 L647.6 162.0 L652.1 162.0 L656.5 162.0 L661.0 162.1 L665.5 162.1 L670.0 162.2 L674.5 162.3 L678.9 162.5 L683.4 162.7 L687.9 162.8 L692.4 163.1 L696.9 163.3 L701.4 163.6 L705.9 163.9 L710.4 164.3 L714.8 164.7 L719.3 165.1 L723.8 165.5 L728.2 166.0" stroke="#343434" stroke-width="1.6"/>
<path d="M558.8 167.1 L562.8 166.7 L566.8 166.4 L570.8 166.1 L574.8 165.8 L578.9 165.5 L583.0 165.3 L587.2 165.0 L591.3 164.8 L595.5 164.5 L599.7 164.3 L604.0 164.1 L608.2 164.0 L612.5 163.8 L616.8 163.7 L621.1 163.6 L625.5 163.5 L629.8 163.4 L634.2 163.4 L638.5 163.4 L642.9 163.4 L647.3 163.4 L651.7 163.5 L656.1 163.6 L660.6 163.7 L665.0 163.9 L669.4 164.1 L673.8 164.3 L678.2 164.6 L682.7 164.9 L687.1 165.2 L691.5 165.6 L695.9 166.0 L700.3 166.4 L704.7 166.9 L709.1 167.4 L713.4 168.0 L717.8 168.6 L722.1 169.3 L726.4 170.0" stroke="#3a3a3a" stroke-width="1.6"/>
<path d="M558.9 167.8 L562.9 167.5 L566.8 167.2 L570.8 166.9 L574.9 166.6 L579.0 166.4 L583.1 166.1 L587.2 165.9 L591.3 165.6 L595.5 165.4 L599.7 165.2 L603.9 165.1 L608.2 164.9 L612.5 164.8 L616.7 164.7 L621.0 164.6 L625.3 164.6 L629.7 164.6 L634.0 164.6 L638.3 164.6 L642.7 164.7 L647.0 164.8 L651.4 165.0 L655.7 165.2 L660.1 165.4 L664.5 165.6 L668.8 165.9 L673.2 166.3 L677.5 166.6 L681.9 167.1 L686.2 167.5 L690.5 168.1 L694.9 168.6 L699.2 169.2 L703.5 169.9 L707.7 170.6 L712.0 171.4 L716.2 172.2 L720.5 173.1 L724.7 174.0" stroke="#3a3a3a" stroke-width="1.6"/>
<path d="M559.0 168.6 L562.9 168.3 L566.9 168.0 L570.9 167.7 L574.9 167.4 L579.0 167.2 L583.1 166.9 L587.2 166.7 L591.4 166.5 L595.5 166.3 L599.7 166.1 L603.9 166.0 L608.2 165.9 L612.4 165.8 L616.7 165.7 L620.9 165.7 L625.2 165.7 L629.5 165.7 L633.8 165.8 L638.1 165.9 L642.4 166.0 L646.7 166.2 L651.0 166.5 L655.3 166.7 L659.6 167.0 L663.9 167.4 L668.2 167.8 L672.5 168.2 L676.8 168.7 L681.1 169.3 L685.4 169.9 L689.6 170.5 L693.8 171.3 L698.1 172.0 L702.2 172.9 L706.4 173.8 L710.6 174.7 L714.7 175.8 L718.8 176.8 L722.9 178.0" stroke="#3e3e3e" stroke-width="1.6"/>
<path d="M559.0 169.4 L563.0 169.1 L566.9 168.8 L570.9 168.5 L575.0 168.3 L579.0 168.0 L583.1 167.8 L587.2 167.6 L591.4 167.4 L595.5 167.2 L599.7 167.1 L603.9 166.9 L608.1 166.9 L612.3 166.8 L616.6 166.8 L620.8 166.8 L625.1 166.8 L629.3 166.9 L633.6 167.0 L637.9 167.2 L642.1 167.4 L646.4 167.6 L650.7 167.9 L654.9 168.3 L659.2 168.7 L663.4 169.1 L667.7 169.6 L671.9 170.2 L676.1 170.8 L680.3 171.5 L684.5 172.2 L688.7 173.0 L692.8 173.9 L696.9 174.8 L701.0 175.9 L705.1 176.9 L709.2 178.1 L713.2 179.3 L717.2 180.6 L721.1 182.0" stroke="#343434" stroke-width="1.6"/>
<path d="M559.1 170.2 L563.0 169.9 L567.0 169.6 L571.0 169.3 L575.0 169.1 L579.1 168.8 L583.2 168.6 L587.3 168.4 L591.4 168.2 L595.6 168.1 L599.7 168.0 L603.9 167.9 L608.1 167.8 L612.3 167.8 L616.5 167.8 L620.7 167.8 L624.9 167.9 L629.2 168.1 L633.4 168.2 L637.6 168.4 L641.9 168.7 L646.1 169.0 L650.3 169.4 L654.5 169.8 L658.7 170.3 L662.9 170.9 L667.1 171.5 L671.3 172.2 L675.4 172.9 L679.5 173.7 L683.6 174.6 L687.7 175.5 L691.8 176.5 L695.8 177.7 L699.8 178.8 L703.8 180.1 L707.7 181.4 L711.6 182.9 L715.5 184.4 L719.3 186.0" stroke="#343434" stroke-width="1.6"/>
<path d="M559.2 170.9 L563.1 170.7 L567.1 170.4 L571.1 170.1 L575.1 169.9 L579.1 169.7 L583.2 169.5 L587.3 169.3 L591.4 169.1 L595.6 169.0 L599.7 168.9 L603.9 168.8 L608.0 168.8 L612.2 168.8 L616.4 168.8 L620.6 168.9 L624.8 169.0 L629.0 169.2 L633.2 169.4 L637.4 169.7 L641.6 170.1 L645.8 170.4 L650.0 170.9 L654.1 171.4 L658.3 172.0 L662.4 172.6 L666.5 173.3 L670.6 174.1 L674.7 175.0 L678.8 175.9 L682.8 176.9 L686.8 178.0 L690.8 179.2 L694.7 180.5 L698.6 181.8 L702.5 183.3 L706.3 184.8 L710.1 186.4 L713.8 188.2 L717.6 190.0" stroke="#3a3a3a" stroke-width="1.6"/>
<path d="M559.2 171.7 L563.1 171.4 L567.1 171.2 L571.1 170.9 L575.1 170.7 L579.2 170.5 L583.2 170.3 L587.3 170.1 L591.4 170.0 L595.6 169.9 L599.7 169.8 L603.9 169.7 L608.0 169.7 L612.2 169.8 L616.3 169.8 L620.5 170.0 L624.7 170.1 L628.9 170.4 L633.0 170.7 L637.2 171.0 L641.3 171.4 L645.5 171.8 L649.6 172.4 L653.7 173.0 L657.8 173.6 L661.9 174.4 L666.0 175.2 L670.0 176.1 L674.0 177.1 L678.0 178.1 L681.9 179.3 L685.9 180.5 L689.7 181.8 L693.6 183.3 L697.4 184.8 L701.2 186.4 L704.9 188.2 L708.6 190.0 L712.2 191.9 L715.8 194.0" stroke="#3a3a3a" stroke-width="1.6"/>
<path d="M559.3 172.5 L563.2 172.2 L567.2 172.0 L571.2 171.7 L575.2 171.5 L579.2 171.3 L583.3 171.1 L587.4 171.0 L591.5 170.8 L595.6 170.8 L599.7 170.7 L603.8 170.7 L608.0 170.7 L612.1 170.8 L616.3 170.9 L620.4 171.0 L624.6 171.3 L628.7 171.5 L632.8 171.9 L637.0 172.3 L641.1 172.7 L645.2 173.3 L649.3 173.9 L653.3 174.5 L657.4 175.3 L661.4 176.1 L665.4 177.0 L669.4 178.0 L673.3 179.1 L677.2 180.3 L681.1 181.6 L684.9 183.0 L688.7 184.5 L692.5 186.1 L696.2 187.8 L699.8 189.6 L703.5 191.5 L707.0 193.6 L710.5 195.7 L714.0 198.0" stroke="#3e3e3e" stroke-width="1.6"/>
<path d="M539.2 225.7 L540.9 229.3 L542.6 233.0 L544.2 236.8 L545.8 240.5 L547.4 244.3 L549.0 248.2 L550.5 252.1 L552.1 256.0 L553.6 259.9 L555.1 263.9 L556.6 267.8 L558.0 271.9 L559.4 275.9 L560.8 280.0 L562.2 284.1 L563.6 288.3 L564.9 292.5 L566.3 296.7 L567.6 300.9 L568.8 305.2 L570.1 309.5 L571.3 313.8 L572.5 318.2 L573.7 322.6 L574.9 327.0 L576.0 331.4 L577.2 335.9 L578.3 340.4 L579.3 344.9 L580.4 349.5 L581.4 354.0 L582.5 358.7 L583.4 363.3 L584.4 367.9 L585.4 372.6 L586.3 377.4 L587.2 382.1 L588.1 386.9 L588.9 391.7" stroke="#202020" stroke-width="3.4"/>
<path d="M538.5 226.0 L540.2 229.6 L541.8 233.3 L543.4 237.1 L545.0 240.9 L546.5 244.7 L548.1 248.5 L549.6 252.4 L551.1 256.3 L552.6 260.2 L554.0 264.2 L555.5 268.1 L556.9 272.2 L558.3 276.2 L559.6 280.3 L561.0 284.4 L562.3 288.5 L563.6 292.7 L564.9 296.8 L566.1 301.0 L567.3 305.3 L568.5 309.6 L569.7 313.8 L570.8 318.2 L571.9 322.5 L573.0 326.9 L574.1 331.3 L575.1 335.7 L576.1 340.1 L577.1 344.6 L578.0 349.1 L578.9 353.6 L579.8 358.1 L580.7 362.7 L581.5 367.3 L582.3 371.9 L583.1 376.5 L583.8 381.1 L584.5 385.8 L585.2 390.5" stroke="#202020" stroke-width="3.4"/>
<path d="M537.8 226.3 L539.4 229.9 L541.0 233.7 L542.6 237.4 L544.1 241.2 L545.7 245.0 L547.2 248.8 L548.7 252.7 L550.1 256.6 L551.6 260.5 L553.0 264.5 L554.4 268.4 L555.8 272.5 L557.1 276.5 L558.4 280.6 L559.7 284.6 L561.0 288.8 L562.2 292.9 L563.4 297.1 L564.6 301.3 L565.7 305.5 L566.8 309.7 L567.9 314.0 L568.9 318.3 L569.9 322.6 L570.9 326.9 L571.9 331.3 L572.8 335.7 L573.6 340.1 L574.5 344.5 L575.3 349.0 L576.0 353.4 L576.8 357.9 L577.4 362.5 L578.1 367.0 L578.7 371.6 L579.3 376.1 L579.8 380.8 L580.3 385.4 L580.7 390.0" stroke="#202020" stroke-width="3.4"/>
<path d="M537.1 226.6 L538.7 230.2 L540.2 234.0 L541.8 237.7 L543.3 241.5 L544.8 245.3 L546.3 249.2 L547.7 253.0 L549.2 256.9 L550.6 260.8 L552.0 264.8 L553.3 268.8 L554.7 272.8 L556.0 276.8 L557.3 280.9 L558.5 285.0 L559.7 289.1 L560.9 293.2 L562.1 297.4 L563.2 301.6 L564.3 305.8 L565.4 310.0 L566.4 314.3 L567.4 318.6 L568.4 322.9 L569.3 327.2 L570.2 331.6 L571.1 336.0 L571.9 340.4 L572.6 344.8 L573.4 349.3 L574.1 353.7 L574.7 358.2 L575.3 362.8 L575.9 367.3 L576.4 371.9 L576.9 376.5 L577.3 381.1 L577.7 385.7 L578.0 390.4" stroke="#202020" stroke-width="3.4"/>
<path d="M536.4 226.9 L537.9 230.6 L539.4 234.3 L540.9 238.0 L542.4 241.8 L543.9 245.6 L545.4 249.5 L546.8 253.4 L548.2 257.2 L549.6 261.2 L550.9 265.1 L552.2 269.1 L553.5 273.1 L554.8 277.1 L556.1 281.2 L557.3 285.3 L558.4 289.4 L559.6 293.5 L560.7 297.7 L561.8 301.9 L562.8 306.1 L563.8 310.3 L564.8 314.6 L565.7 318.8 L566.6 323.2 L567.4 327.5 L568.2 331.9 L568.9 336.2 L569.7 340.6 L570.3 345.1 L570.9 349.5 L571.5 354.0 L572.0 358.5 L572.5 363.0 L572.9 367.6 L573.3 372.2 L573.6 376.8 L573.8 381.4 L574.0 386.0 L574.2 390.7" stroke="#202020" stroke-width="3.4"/>
<path d="M535.6 227.1 L537.2 230.9 L538.7 234.6 L540.1 238.4 L541.6 242.2 L543.0 246.0 L544.4 249.8 L545.8 253.7 L547.2 257.6 L548.6 261.5 L549.9 265.5 L551.2 269.4 L552.4 273.5 L553.6 277.5 L554.8 281.6 L556.0 285.6 L557.1 289.8 L558.2 293.9 L559.2 298.1 L560.2 302.3 L561.2 306.5 L562.1 310.8 L563.0 315.0 L563.8 319.4 L564.6 323.7 L565.4 328.1 L566.1 332.5 L566.7 336.9 L567.3 341.3 L567.8 345.8 L568.3 350.3 L568.7 354.8 L569.1 359.4 L569.4 364.0 L569.7 368.6 L569.8 373.2 L570.0 377.9 L570.0 382.6 L570.0 387.3 L569.9 392.1" stroke="#202020" stroke-width="3.4"/>
<path d="M534.9 227.4 L536.4 231.2 L537.9 234.9 L539.3 238.7 L540.7 242.5 L542.2 246.3 L543.5 250.1 L544.9 254.0 L546.2 257.9 L547.5 261.8 L548.8 265.8 L550.1 269.7 L551.3 273.7 L552.5 277.8 L553.6 281.8 L554.7 285.9 L555.8 290.0 L556.8 294.1 L557.8 298.3 L558.8 302.4 L559.7 306.6 L560.5 310.9 L561.3 315.1 L562.1 319.4 L562.8 323.7 L563.5 328.0 L564.1 332.4 L564.6 336.7 L565.1 341.1 L565.5 345.6 L565.9 350.0 L566.2 354.5 L566.4 359.0 L566.6 363.5 L566.7 368.1 L566.7 372.6 L566.7 377.2 L566.6 381.9 L566.4 386.5 L566.1 391.2" stroke="#202020" stroke-width="3.4"/>
<path d="M534.2 227.7 L535.7 231.5 L537.1 235.2 L538.5 239.0 L539.9 242.8 L541.3 246.6 L542.6 250.5 L544.0 254.3 L545.3 258.2 L546.5 262.1 L547.8 266.1 L549.0 270.0 L550.2 274.0 L551.3 278.0 L552.5 282.1 L553.5 286.1 L554.6 290.2 L555.6 294.3 L556.5 298.4 L557.4 302.6 L558.3 306.8 L559.1 311.0 L559.8 315.2 L560.5 319.4 L561.2 323.7 L561.8 328.0 L562.3 332.3 L562.8 336.6 L563.2 340.9 L563.6 345.3 L563.8 349.7 L564.1 354.1 L564.2 358.6 L564.3 363.0 L564.3 367.5 L564.2 372.0 L564.1 376.5 L563.8 381.1 L563.5 385.7 L563.2 390.2" stroke="#202020" stroke-width="3.4"/>
<path d="M533.5 228.0 L534.9 231.8 L536.3 235.5 L537.7 239.3 L539.1 243.1 L540.4 246.9 L541.7 250.8 L543.0 254.7 L544.3 258.6 L545.5 262.5 L546.7 266.4 L547.9 270.4 L549.0 274.4 L550.1 278.4 L551.2 282.5 L552.2 286.5 L553.1 290.6 L554.1 294.7 L554.9 298.9 L555.7 303.1 L556.5 307.2 L557.2 311.5 L557.9 315.7 L558.4 320.0 L559.0 324.3 L559.4 328.6 L559.8 333.0 L560.1 337.3 L560.3 341.7 L560.5 346.2 L560.6 350.6 L560.6 355.1 L560.5 359.6 L560.4 364.2 L560.1 368.7 L559.8 373.3 L559.4 377.9 L558.9 382.6 L558.3 387.3 L557.6 392.0" stroke="#202020" stroke-width="3.4"/>
<path d="M532.8 228.3 L534.2 232.1 L535.5 235.8 L536.9 239.6 L538.2 243.4 L539.5 247.3 L540.8 251.1 L542.1 255.0 L543.3 258.9 L544.5 262.8 L545.7 266.7 L546.8 270.7 L548.0 274.7 L549.0 278.7 L550.0 282.7 L551.0 286.7 L552.0 290.8 L552.8 294.9 L553.7 299.0 L554.5 303.1 L555.2 307.3 L555.9 311.5 L556.5 315.7 L557.0 319.9 L557.5 324.1 L557.9 328.4 L558.2 332.7 L558.5 337.0 L558.7 341.3 L558.8 345.7 L558.9 350.0 L558.8 354.4 L558.7 358.9 L558.5 363.3 L558.2 367.8 L557.8 372.2 L557.3 376.7 L556.7 381.3 L556.0 385.8 L555.3 390.4" stroke="#202020" stroke-width="3.4"/>
<path d="M539.2 225.7 L540.9 229.3 L542.6 233.0 L544.2 236.8 L545.8 240.5 L547.4 244.3 L549.0 248.2 L550.6 252.1 L552.1 255.9 L553.6 259.9 L555.1 263.8 L556.6 267.8 L558.0 271.9 L559.5 275.9 L560.9 280.0 L562.3 284.1 L563.6 288.2 L565.0 292.4 L566.3 296.6 L567.6 300.8 L568.9 305.1 L570.2 309.4 L571.4 313.7 L572.7 318.0 L573.9 322.4 L575.0 326.8 L576.2 331.2 L577.4 335.7 L578.5 340.1 L579.6 344.6 L580.7 349.2 L581.7 353.7 L582.8 358.3 L583.8 362.9 L584.8 367.5 L585.8 372.2 L586.7 376.8 L587.7 381.5 L588.6 386.3 L589.5 391.0" stroke="#3a3a3a" stroke-width="1.6"/>
<path d="M538.5 226.0 L540.2 229.6 L541.8 233.3 L543.4 237.1 L545.0 240.9 L546.5 244.7 L548.1 248.5 L549.6 252.4 L551.1 256.3 L552.6 260.2 L554.1 264.2 L555.5 268.2 L556.9 272.2 L558.3 276.2 L559.7 280.3 L561.0 284.4 L562.3 288.5 L563.6 292.7 L564.9 296.9 L566.1 301.1 L567.4 305.4 L568.6 309.6 L569.7 313.9 L570.9 318.3 L572.0 322.6 L573.1 327.0 L574.2 331.4 L575.2 335.8 L576.3 340.3 L577.2 344.8 L578.2 349.3 L579.1 353.8 L580.1 358.4 L580.9 363.0 L581.8 367.6 L582.6 372.2 L583.4 376.9 L584.2 381.6 L584.9 386.3 L585.6 391.0" stroke="#3a3a3a" stroke-width="1.6"/>
<path d="M537.8 226.3 L539.4 229.9 L541.0 233.7 L542.6 237.4 L544.1 241.2 L545.7 245.0 L547.2 248.8 L548.7 252.7 L550.1 256.6 L551.6 260.5 L553.0 264.5 L554.4 268.5 L555.8 272.5 L557.1 276.5 L558.5 280.6 L559.8 284.7 L561.0 288.8 L562.3 293.0 L563.5 297.2 L564.7 301.4 L565.8 305.6 L567.0 309.9 L568.1 314.2 L569.1 318.5 L570.2 322.8 L571.2 327.2 L572.2 331.6 L573.1 336.0 L574.0 340.5 L574.9 344.9 L575.7 349.4 L576.6 353.9 L577.3 358.5 L578.1 363.1 L578.8 367.7 L579.4 372.3 L580.1 376.9 L580.7 381.6 L581.2 386.3 L581.7 391.0" stroke="#3a3a3a" stroke-width="1.6"/>
<path d="M537.1 226.6 L538.7 230.2 L540.2 234.0 L541.8 237.7 L543.3 241.5 L544.8 245.3 L546.3 249.2 L547.7 253.0 L549.2 256.9 L550.6 260.9 L552.0 264.8 L553.3 268.8 L554.7 272.8 L556.0 276.8 L557.2 280.9 L558.5 285.0 L559.7 289.1 L560.9 293.3 L562.1 297.4 L563.2 301.6 L564.3 305.9 L565.4 310.1 L566.4 314.4 L567.4 318.7 L568.3 323.0 L569.3 327.4 L570.1 331.8 L571.0 336.2 L571.8 340.6 L572.6 345.1 L573.3 349.5 L574.0 354.1 L574.6 358.6 L575.2 363.1 L575.8 367.7 L576.3 372.3 L576.7 377.0 L577.1 381.6 L577.5 386.3 L577.8 391.0" stroke="#3e3e3e" stroke-width="1.6"/>
<path d="M536.4 226.9 L537.9 230.6 L539.4 234.3 L540.9 238.0 L542.4 241.8 L543.9 245.6 L545.4 249.5 L546.8 253.4 L548.2 257.3 L549.6 261.2 L550.9 265.1 L552.2 269.1 L553.5 273.1 L554.8 277.1 L556.0 281.2 L557.2 285.3 L558.4 289.4 L559.6 293.5 L560.7 297.7 L561.7 301.9 L562.8 306.1 L563.8 310.4 L564.7 314.6 L565.6 318.9 L566.5 323.2 L567.3 327.6 L568.1 331.9 L568.9 336.3 L569.6 340.8 L570.2 345.2 L570.8 349.7 L571.4 354.2 L571.9 358.7 L572.3 363.2 L572.7 367.8 L573.1 372.4 L573.4 377.0 L573.6 381.6 L573.8 386.3 L573.9 391.0" stroke="#3e3e3e" stroke-width="1.6"/>
<path d="M535.6 227.1 L537.2 230.9 L538.7 234.6 L540.1 238.4 L541.6 242.1 L543.0 246.0 L544.4 249.8 L545.8 253.7 L547.2 257.6 L548.6 261.5 L549.9 265.4 L551.2 269.4 L552.4 273.4 L553.6 277.5 L554.8 281.5 L556.0 285.6 L557.1 289.7 L558.2 293.8 L559.3 298.0 L560.3 302.2 L561.2 306.4 L562.2 310.6 L563.0 314.8 L563.9 319.1 L564.7 323.4 L565.4 327.8 L566.1 332.1 L566.7 336.5 L567.3 340.9 L567.9 345.3 L568.4 349.8 L568.8 354.3 L569.2 358.8 L569.5 363.3 L569.7 367.9 L569.9 372.4 L570.1 377.1 L570.1 381.7 L570.1 386.3 L570.1 391.0" stroke="#343434" stroke-width="1.6"/>
<path d="M534.9 227.4 L536.4 231.2 L537.9 234.9 L539.3 238.7 L540.7 242.5 L542.2 246.3 L543.5 250.1 L544.9 254.0 L546.2 257.9 L547.5 261.8 L548.8 265.8 L550.1 269.7 L551.3 273.7 L552.5 277.8 L553.6 281.8 L554.7 285.9 L555.8 290.0 L556.8 294.1 L557.8 298.2 L558.8 302.4 L559.7 306.6 L560.5 310.8 L561.4 315.1 L562.1 319.3 L562.8 323.6 L563.5 328.0 L564.1 332.3 L564.6 336.7 L565.1 341.1 L565.5 345.5 L565.9 349.9 L566.2 354.4 L566.4 358.9 L566.6 363.4 L566.7 367.9 L566.8 372.5 L566.7 377.1 L566.6 381.7 L566.4 386.3 L566.2 391.0" stroke="#3e3e3e" stroke-width="1.6"/>
<path d="M534.2 227.7 L535.7 231.5 L537.1 235.2 L538.5 239.0 L539.9 242.8 L541.3 246.6 L542.6 250.5 L544.0 254.3 L545.3 258.2 L546.5 262.1 L547.8 266.1 L549.0 270.1 L550.2 274.1 L551.3 278.1 L552.4 282.1 L553.5 286.2 L554.5 290.3 L555.5 294.4 L556.4 298.5 L557.3 302.7 L558.2 306.9 L558.9 311.1 L559.7 315.3 L560.4 319.6 L561.0 323.9 L561.5 328.2 L562.1 332.5 L562.5 336.8 L562.9 341.2 L563.2 345.6 L563.4 350.1 L563.6 354.5 L563.7 359.0 L563.7 363.5 L563.7 368.0 L563.6 372.6 L563.4 377.1 L563.1 381.7 L562.7 386.4 L562.3 391.0" stroke="#343434" stroke-width="1.6"/>
<path d="M533.5 228.0 L534.9 231.8 L536.3 235.5 L537.7 239.3 L539.1 243.1 L540.4 246.9 L541.7 250.8 L543.0 254.7 L544.3 258.6 L545.5 262.5 L546.7 266.4 L547.9 270.4 L549.0 274.4 L550.2 278.4 L551.2 282.4 L552.2 286.5 L553.2 290.6 L554.1 294.7 L555.0 298.8 L555.8 302.9 L556.6 307.1 L557.3 311.3 L558.0 315.5 L558.6 319.8 L559.1 324.1 L559.6 328.4 L560.0 332.7 L560.4 337.0 L560.6 341.4 L560.8 345.8 L561.0 350.2 L561.0 354.6 L561.0 359.1 L560.9 363.6 L560.7 368.1 L560.4 372.6 L560.0 377.2 L559.6 381.8 L559.0 386.4 L558.4 391.0" stroke="#343434" stroke-width="1.6"/>
<path d="M532.8 228.3 L534.2 232.1 L535.5 235.8 L536.9 239.6 L538.2 243.4 L539.5 247.3 L540.8 251.1 L542.1 255.0 L543.3 258.9 L544.5 262.8 L545.7 266.7 L546.8 270.7 L547.9 274.7 L549.0 278.7 L550.0 282.7 L551.0 286.8 L551.9 290.8 L552.8 294.9 L553.6 299.1 L554.4 303.2 L555.1 307.4 L555.7 311.6 L556.3 315.8 L556.8 320.0 L557.3 324.3 L557.7 328.5 L558.0 332.9 L558.3 337.2 L558.4 341.5 L558.5 345.9 L558.5 350.3 L558.4 354.7 L558.3 359.2 L558.0 363.7 L557.7 368.2 L557.2 372.7 L556.7 377.2 L556.1 381.8 L555.3 386.4 L554.5 391.0" stroke="#343434" stroke-width="1.6"/>

</g>

<!-- dashed lines -->
<g stroke="#ffffff" stroke-width="2.2" stroke-dasharray="11.5 2.75" stroke-dashoffset="6" fill="none">
  <line x1="297" y1="62.5" x2="742" y2="62.5"/>
  <line x1="271" y1="186.5" x2="518.5" y2="186.5"/>
  <line x1="254" y1="417" x2="678" y2="417"/>
  <line x1="226" y1="512.5" x2="671" y2="512.5"/>
  <line x1="344" y1="558" x2="476" y2="558"/>
  <line x1="387" y1="692" x2="682" y2="692"/>
</g>

<!-- labels -->
<g font-size="28">
  <text x="91.5" y="65.4" textLength="198" lengthAdjust="spacingAndGlyphs">Universal wheel</text>
  <text x="14.5" y="188.6" textLength="250" lengthAdjust="spacingAndGlyphs">Double-sided brush</text>
  <text x="16" y="419" textLength="230.5" lengthAdjust="spacingAndGlyphs">Dust collection port</text>
  <text x="164.5" y="517" textLength="56" lengthAdjust="spacingAndGlyphs">Mop</text>
  <text x="150.5" y="563" textLength="190" lengthAdjust="spacingAndGlyphs">Rear two wheels</text>
</g>
<g font-size="25">
  <text x="200.5" y="685.6" textLength="183.5" lengthAdjust="spacingAndGlyphs">type-c charging</text>
  <text x="158.5" y="715" textLength="223.5" lengthAdjust="spacingAndGlyphs">There is no need to</text>
  <text x="47.5" y="743.75" textLength="333" lengthAdjust="spacingAndGlyphs">disassemble the battery inlet</text>
</g>
</svg>
</body></html>
